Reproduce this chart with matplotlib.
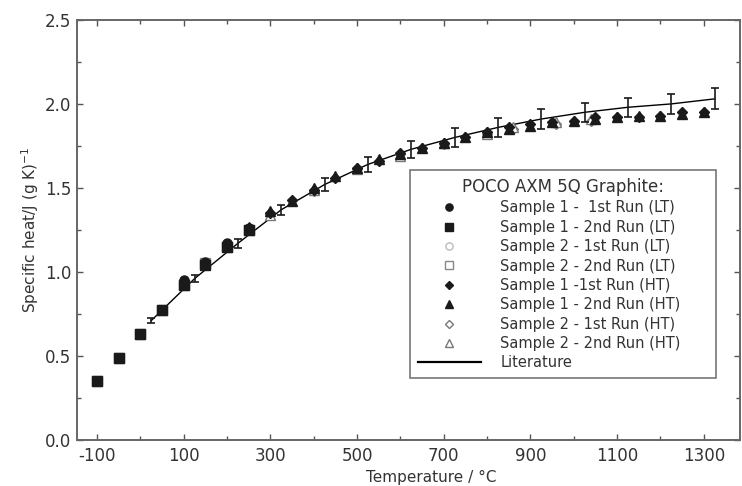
import matplotlib
matplotlib.use("Agg")
import matplotlib.pyplot as plt
from matplotlib.ticker import MultipleLocator

plt.rcParams['font.family'] = ['DejaVu Sans']
plt.rcParams['axes.unicode_minus'] = False

# low temperature runs (DSC), degrees C
lt_temp = [-100, -50, 0, 50, 100, 150, 200, 250]
s1_run1_lt = [0.35, 0.49, 0.63, 0.77, 0.95, 1.06, 1.17, 1.26]
s1_run2_lt = [0.35, 0.49, 0.63, 0.77, 0.92, 1.04, 1.15, 1.25]
s2_run1_lt = [0.35, 0.49, 0.63, 0.77, 0.93, 1.05, 1.16, 1.25]
s2_run2_lt = [0.35, 0.49, 0.63, 0.77, 0.92, 1.05, 1.15, 1.25]

# high temperature runs
ht_temp = [250, 300, 350, 400, 450, 500, 550, 600, 650, 700, 750,
           800, 850, 900, 950, 1000, 1050, 1100, 1150, 1200, 1250, 1300]
s1_run1_ht = [1.26, 1.35, 1.43, 1.49, 1.56, 1.62, 1.66, 1.71, 1.74, 1.77, 1.80,
              1.83, 1.86, 1.88, 1.89, 1.90, 1.92, 1.92, 1.92, 1.93, 1.95, 1.95]
s1_run2_ht = [1.27, 1.36, 1.42, 1.50, 1.57, 1.62, 1.67, 1.70, 1.74, 1.77, 1.80,
              1.83, 1.85, 1.87, 1.89, 1.90, 1.91, 1.92, 1.93, 1.93, 1.94, 1.95]
ht2_temp = [300, 400, 500, 600, 700, 800, 860, 960, 1040]
s2_run1_ht = [1.35, 1.48, 1.61, 1.70, 1.76, 1.82, 1.85, 1.88, 1.90]
s2_run2_ht = [1.34, 1.49, 1.61, 1.69, 1.77, 1.82, 1.86, 1.89, 1.91]

# literature values with uncertainty
lit_temp = [25, 125, 225, 325, 425, 525, 625, 725, 825, 925, 1025, 1125, 1225, 1325]
lit_cp = [0.71, 0.96, 1.17, 1.37, 1.52, 1.64, 1.73, 1.80, 1.86, 1.91, 1.95, 1.98, 2.00, 2.03]
lit_err = [0.015, 0.02, 0.025, 0.03, 0.04, 0.045, 0.05, 0.055, 0.055, 0.057,
           0.057, 0.058, 0.06, 0.063]

fig = plt.figure(figsize=(7.42, 4.86), dpi=100)
ax = fig.add_axes([0.104, 0.095, 0.893, 0.864])

dark = '#1a1a1a'
txt = '#333333'
ax.plot(lit_temp, lit_cp, color='black', lw=1.0, zorder=2)
ax.errorbar(lit_temp, lit_cp, yerr=lit_err, fmt='none', ecolor=dark,
            elinewidth=1.2, capsize=3, capthick=1.2, zorder=5)

ms = 6.5
h3, = ax.plot(lt_temp, s2_run1_lt, 'o', mfc='white', mec='#bbbbbb', ms=ms, zorder=3)
h4, = ax.plot(lt_temp, s2_run2_lt, 's', mfc='white', mec='#888888', ms=ms, zorder=3)
h7, = ax.plot(ht2_temp, s2_run1_ht, 'D', mfc='white', mec='#777777', ms=5.5, zorder=3)
h8, = ax.plot(ht2_temp, s2_run2_ht, '^', mfc='white', mec='#777777', ms=ms, zorder=3)
h1, = ax.plot(lt_temp, s1_run1_lt, 'o', color=dark, ms=ms, zorder=4)
h2, = ax.plot(lt_temp, s1_run2_lt, 's', color=dark, ms=ms, zorder=4)
h5, = ax.plot(ht_temp, s1_run1_ht, 'D', color=dark, ms=5.5, zorder=4)
h6, = ax.plot(ht_temp, s1_run2_ht, '^', color=dark, ms=ms, zorder=4)
h9, = ax.plot([], [], color='black', lw=1.6)

ax.set_xlim(-146, 1383)
ax.set_ylim(0, 2.5)
ax.set_xticks([-100, 100, 300, 500, 700, 900, 1100, 1300])
ax.xaxis.set_minor_locator(MultipleLocator(100))
ax.yaxis.set_major_locator(MultipleLocator(0.5))
ax.yaxis.set_minor_locator(MultipleLocator(0.25))
ax.yaxis.set_major_formatter(plt.FormatStrFormatter('%.1f'))
ax.tick_params(which='both', direction='in', top=True, right=True,
               colors='#555555', labelcolor=txt, labelsize=12)
ax.tick_params(which='major', length=4, width=1)
ax.tick_params(which='minor', length=3, width=1)
ax.tick_params(axis='x', pad=5)
ax.tick_params(axis='y', pad=4)
for sp in ax.spines.values():
    sp.set_color('#666666')
    sp.set_linewidth(1.4)

ax.set_xlabel('Temperature / \u00b0C', fontsize=11, color=txt)
ax.xaxis.set_label_coords(0.534, -0.073)
ax.set_ylabel('Specific heat/J (g K)$^{-1}$', fontsize=11, color=txt)
ax.yaxis.set_label_coords(-0.054, 0.5)

labels = ['Sample 1 -  1st Run (LT)', 'Sample 1 - 2nd Run (LT)',
          'Sample 2 - 1st Run (LT)', 'Sample 2 - 2nd Run (LT)',
          'Sample 1 -1st Run (HT)', 'Sample 1 - 2nd Run (HT)',
          'Sample 2 - 1st Run (HT)', 'Sample 2 - 2nd Run (HT)', 'Literature']
leg_box = (410 / 742, 1 - 377 / 486, 306 / 742, 207 / 486)
leg = ax.legend([h1, h2, h3, h4, h5, h6, h7, h8, h9], labels,
                title='POCO AXM 5Q Graphite:', loc='upper left',
                bbox_to_anchor=leg_box, mode='expand',
                bbox_transform=fig.transFigure, borderaxespad=0,
                fontsize=10.5, title_fontsize=12, fancybox=False,
                edgecolor='#777777', framealpha=1, handlelength=4.3,
                handletextpad=1.35, labelspacing=0.3, borderpad=0.55,
                markerscale=0.8)
leg.get_frame().set_linewidth(1.2)
for t in leg.get_texts():
    t.set_color(txt)
leg.get_title().set_color(txt)

fig.savefig('out.png', dpi=100)
